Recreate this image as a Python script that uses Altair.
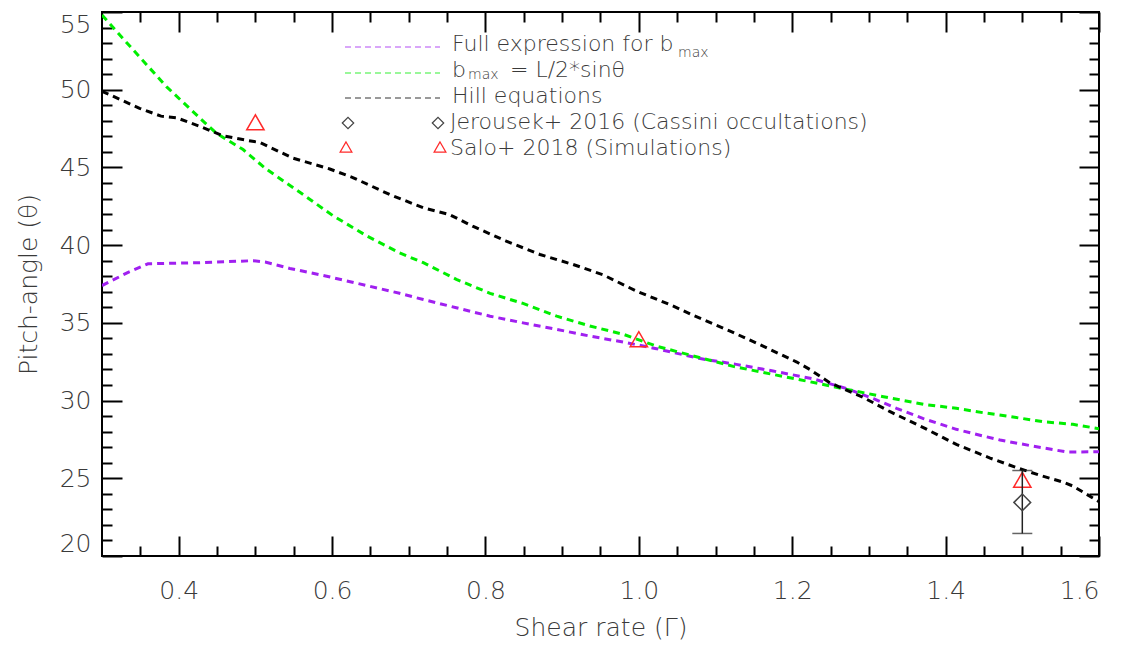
import altair as alt
import pandas as pd

# ---------------- data ----------------
purple_x = [0.300, 0.332, 0.360, 0.427, 0.497, 0.514, 0.545, 0.593, 0.645, 0.688, 0.719, 0.762,
            0.806, 0.849, 0.893, 0.936, 0.980, 1.023, 1.080, 1.127, 1.175, 1.227, 1.271, 1.306,
            1.336, 1.371, 1.414, 1.449, 1.471, 1.514, 1.558, 1.600]
purple_y = [37.4, 38.2, 38.8, 38.87, 39.0, 38.9, 38.5, 38.0, 37.4, 36.9, 36.5, 35.97,
            35.43, 35.0, 34.58, 34.15, 33.76, 33.34, 32.7, 32.33, 31.9, 31.4, 30.77, 30.12,
            29.5, 28.84, 28.15, 27.72, 27.46, 27.07, 26.69, 26.71]

green_x = [0.300, 0.340, 0.384, 0.427, 0.449, 0.484, 0.514, 0.558, 0.601, 0.645, 0.688, 0.719,
           0.762, 0.806, 0.849, 0.893, 0.936, 0.980, 1.023, 1.075, 1.123, 1.175, 1.219, 1.266,
           1.319, 1.371, 1.414, 1.449, 1.480, 1.527, 1.566, 1.600]
green_y = [54.8, 52.6, 50.2, 48.2, 47.2, 46.15, 44.9, 43.4, 41.9, 40.6, 39.5, 38.87,
           37.8, 36.9, 36.25, 35.43, 34.8, 34.26, 33.5, 32.82, 32.2, 31.68, 31.25, 30.77,
           30.25, 29.76, 29.5, 29.22, 29.0, 28.64, 28.47, 28.19]

black_x = [0.300, 0.349, 0.377, 0.397, 0.427, 0.457, 0.488, 0.506, 0.549, 0.597, 0.627, 0.675,
           0.719, 0.753, 0.784, 0.827, 0.871, 0.914, 0.953, 0.997, 1.045, 1.071, 1.119, 1.162,
           1.206, 1.223, 1.249, 1.293, 1.327, 1.371, 1.414, 1.458, 1.493, 1.523, 1.553, 1.566, 1.600]
black_y = [49.9, 48.8, 48.3, 48.2, 47.65, 47.05, 46.75, 46.6, 45.6, 44.9, 44.35, 43.26,
           42.4, 41.97, 41.2, 40.26, 39.4, 38.76, 38.1, 37.04, 36.08, 35.48, 34.47, 33.5,
           32.48, 32.0, 31.15, 30.19, 29.3, 28.26, 27.18, 26.3, 25.68, 25.19, 24.76, 24.5, 23.5]

salo_x = [0.5, 1.0, 1.5]
salo_y = [47.9, 33.95, 24.9]

jer_x = [1.5]
jer_y = [23.45]
jer_lo = [21.45]
jer_hi = [25.5]

x_major = [0.4, 0.6, 0.8, 1.0, 1.2, 1.4, 1.6]
x_minor = [0.35, 0.45, 0.5, 0.55, 0.65, 0.7, 0.75, 0.85, 0.9, 0.95, 1.05, 1.1, 1.15,
           1.25, 1.3, 1.35, 1.45, 1.5, 1.55]
y_major = [20, 25, 30, 35, 40, 45, 50, 55]
y_minor = [21, 22, 23, 24, 26, 27, 28, 29, 31, 32, 33, 34, 36, 37, 38, 39,
           41, 42, 43, 44, 46, 47, 48, 49, 51, 52, 53, 54]

legend_labels = ["Full expression for b", "b", "= L/2*sin\u03b8", "Hill equations",
                 "Jerousek+ 2016 (Cassini occultations)", "Salo+ 2018 (Simulations)"]
sub_label = "max"

x_title = "Shear rate (\u0393)"
y_title = "Pitch-angle (\u03b8)"

# ---------------- styling ----------------
PURPLE = "#a020f0"
GREEN = "#00ee00"
BLACK = "#000000"
RED = "#ff2a2a"
FONT = "DejaVu Sans"
TXT = "#3a3a3a"
WEIGHT = 200

W, H = 997, 544

xs = alt.Scale(domain=[0.3, 1.6], nice=False, zero=False)
ys = alt.Scale(domain=[20, 55], nice=False, zero=False)


def tick_axis(orient, values, size, labels=False, **kw):
    return alt.Axis(orient=orient, values=values, tickSize=size, offset=-size,
                    labels=labels, domain=False, grid=False, ticks=True,
                    tickColor="black", tickWidth=2, **kw)


ax_xb_major = tick_axis("bottom", x_major, 20, labels=True, format=".1f",
                        labelPadding=22, titlePadding=12)
ax_yl_major = tick_axis("left", y_major, 20, labels=True, format="d",
                        labelPadding=11, labelFlush=True, titlePadding=18)
ax_xb_minor = tick_axis("bottom", x_minor, 10)
ax_yl_minor = tick_axis("left", y_minor, 10)
ax_xt_major = tick_axis("top", x_major, 20)
ax_yr_major = tick_axis("right", y_major, 20)
ax_xt_minor = tick_axis("top", x_minor, 10)
ax_yr_minor = tick_axis("right", y_minor, 10)

df_p = pd.DataFrame({"x": purple_x, "y": purple_y})
df_g = pd.DataFrame({"x": green_x, "y": green_y})
df_b = pd.DataFrame({"x": black_x, "y": black_y})
df_s = pd.DataFrame({"x": salo_x, "y": salo_y})
df_j = pd.DataFrame({"x": jer_x, "y": jer_y, "lo": jer_lo, "hi": jer_hi})
df_caps = pd.DataFrame({"x": jer_x + jer_x, "y": jer_lo + jer_hi})
one = pd.DataFrame({"k": [0]})

line_purple = alt.Chart(df_p).mark_line(color=PURPLE, strokeDash=[7, 5], strokeWidth=3, clip=True).encode(
    x=alt.X("x:Q", scale=xs, axis=ax_xb_major, title=x_title),
    y=alt.Y("y:Q", scale=ys, axis=ax_yl_major, title=y_title),
)
line_green = alt.Chart(df_g).mark_line(color=GREEN, strokeDash=[7, 5], strokeWidth=3, clip=True).encode(
    x=alt.X("x:Q", scale=xs, axis=ax_xb_minor, title=None),
    y=alt.Y("y:Q", scale=ys, axis=ax_yl_minor, title=None),
)
line_black = alt.Chart(df_b).mark_line(color=BLACK, strokeDash=[7, 5], strokeWidth=3, clip=True).encode(
    x=alt.X("x:Q", scale=xs, axis=ax_xt_major, title=None),
    y=alt.Y("y:Q", scale=ys, axis=ax_yr_major, title=None),
)
salo = alt.Chart(df_s).mark_point(shape="triangle-up", size=300, filled=False, color=RED,
                                  strokeWidth=1.5, opacity=1).encode(
    x=alt.X("x:Q", scale=xs, axis=ax_xt_minor, title=None),
    y=alt.Y("y:Q", scale=ys, axis=ax_yr_minor, title=None),
)
err = alt.Chart(df_j).mark_rule(color="#222", strokeWidth=1.5).encode(
    x=alt.X("x:Q", scale=xs, axis=None),
    y=alt.Y("lo:Q", scale=ys, axis=None),
    y2="hi:Q",
)
caps = alt.Chart(df_caps).mark_tick(orient="horizontal", size=20, thickness=1.5, color="#222").encode(
    x=alt.X("x:Q", scale=xs, axis=None),
    y=alt.Y("y:Q", scale=ys, axis=None),
)
jer = alt.Chart(df_j).mark_point(shape="diamond", size=280, filled=False, color="#444",
                                 strokeWidth=1.5, opacity=1).encode(
    x=alt.X("x:Q", scale=xs, axis=None),
    y=alt.Y("y:Q", scale=ys, axis=None),
)

# ---------------- legend (annotation, pixel placed) ----------------
legend_layers = []
for col, yy in [(PURPLE, 35), (GREEN, 61), (BLACK, 86)]:
    legend_layers.append(
        alt.Chart(one).mark_rule(color=col, strokeDash=[6, 4], strokeWidth=1.2, opacity=0.8).encode(
            x=alt.value(243), x2=alt.value(338), y=alt.value(yy))
    )
for xx in [246, 336]:
    legend_layers.append(
        alt.Chart(one).mark_point(shape="diamond", size=130, filled=False, color="#444",
                                  strokeWidth=1.2, opacity=1).encode(x=alt.value(xx), y=alt.value(111)))
for xx in [244, 338]:
    legend_layers.append(
        alt.Chart(one).mark_point(shape="triangle-up", size=140, filled=False, color=RED,
                                  strokeWidth=1.2, opacity=1).encode(x=alt.value(xx), y=alt.value(135)))


def txt(s, x, y, size=22):
    return alt.Chart(one).mark_text(text=s, align="left", baseline="alphabetic", font=FONT,
                                    fontSize=size, fontWeight=WEIGHT, color=TXT).encode(
        x=alt.value(x), y=alt.value(y))


legend_layers += [
    txt(legend_labels[0], 350, 39),
    txt(sub_label, 576, 45, 14),
    txt(legend_labels[1], 350, 65),
    txt(sub_label, 366, 67, 14),
    txt(legend_labels[2], 408, 65),
    txt(legend_labels[3], 350, 91),
    txt(legend_labels[4], 348, 117),
    txt(legend_labels[5], 348, 143),
]

chart = alt.layer(
    line_purple, line_green, line_black, salo, err, caps, jer, *legend_layers
).resolve_axis(x="independent", y="independent").properties(
    width=W, height=H,
    autosize=alt.AutoSizeParams(type="none"),
    padding={"left": 102, "top": 12, "right": 29, "bottom": 89},
).configure_view(stroke="black", strokeWidth=2).configure_axis(
    labelFont=FONT, labelFontSize=25, labelColor=TXT, labelFontWeight=WEIGHT,
    titleFont=FONT, titleFontSize=25, titleColor=TXT, titleFontWeight=WEIGHT,
)

chart.save("out.html", embed_options={"renderer": "svg", "actions": False})
